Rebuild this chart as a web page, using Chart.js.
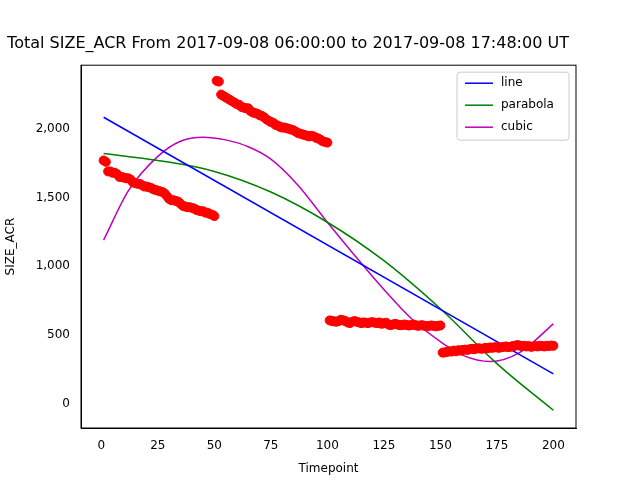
<!DOCTYPE html>
<html>
<head>
<script src="https://cdn.jsdelivr.net/npm/chart.js@4/dist/chart.umd.min.js"></script>
<style>body{margin:0;background:#fff}#wrap{width:640px;height:480px}</style>
</head>
<body>
<div id="wrap"><canvas id="chart"></canvas></div>
<script>
// observed SIZE_ACR, timepoints 1..200
const seg1 = [1770,1760,1690,1690,1680,1680,1670,1650,1650,1645,1640,1640,1630,1610,1605,1600,1600,1590,1580,1580,1575,1570,1560,1555,1550,1545,1540,1530,1510,1490,1480,1480,1475,1470,1455,1440,1435,1430,1430,1425,1420,1410,1405,1400,1400,1390,1390,1380,1375,1365];
const seg2 = [2350,2345,2250,2240,2230,2220,2210,2200,2190,2180,2175,2160,2155,2150,2150,2130,2120,2115,2110,2100,2095,2085,2070,2060,2050,2045,2030,2025,2015,2010,2010,2005,2000,1995,1990,1980,1970,1965,1960,1955,1950,1945,1950,1945,1935,1930,1920,1910,1905,1900];
const seg3 = [605,600,598,595,600,610,605,600,590,585,595,600,595,590,585,590,588,585,590,592,588,585,590,580,585,588,575,570,575,580,575,570,570,575,572,568,570,575,570,565,568,570,565,562,565,568,565,562,565,568];
const seg4 = [370,372,375,380,378,385,380,388,385,390,392,390,395,398,395,400,402,398,400,405,402,408,405,410,408,405,410,412,415,410,412,418,420,425,422,418,420,415,418,412,415,418,415,420,418,415,420,418,422,420];
const observed = seg1.concat(seg2, seg3, seg4);

// fitted curves, read at sample timepoints
const lineX = [1, 200];
const lineY = [2085, 215];
const paraX = [1, 25, 50, 75, 100, 125, 150, 175, 200];
const paraY = [1820, 1770, 1690, 1540, 1320, 1040, 690, 290, -50];
const cubicX = [1, 12, 25, 35, 45, 55, 65, 75, 87, 100, 112, 125, 137, 150, 160, 172, 185, 200];
const cubicY = [1190, 1550, 1800, 1910, 1940, 1920, 1870, 1780, 1590, 1320, 1080, 830, 620, 450, 350, 305, 370, 580];

const xTicks = [0, 25, 50, 75, 100, 125, 150, 175, 200];
const yTicks = [0, 500, 1000, 1500, 2000];

const pts = (xs, ys) => xs.map((x, i) => ({ x: x, y: ys[i] }));

// frame + legend box like matplotlib
const framePlugin = {
  id: "frame",
  afterDraw(chart) {
    const { ctx, chartArea: a } = chart;
    ctx.save();
    ctx.strokeStyle = "#000";
    ctx.lineWidth = 1;
    ctx.strokeRect(a.left, a.top, a.right - a.left, a.bottom - a.top);
    const items = chart.data.datasets.slice(1);
    const bx = a.right - 119, by = a.top + 7, bw = 112, bh = 68;
    ctx.strokeStyle = "#ccc";
    ctx.fillStyle = "rgba(255,255,255,0.8)";
    ctx.beginPath();
    ctx.roundRect(bx, by, bw, bh, 3);
    ctx.fill();
    ctx.stroke();
    ctx.font = "12px 'DejaVu Sans'";
    ctx.textBaseline = "middle";
    items.forEach((d, i) => {
      const y = by + 11 + i * 22;
      ctx.strokeStyle = d.borderColor;
      ctx.lineWidth = 1.5;
      ctx.beginPath();
      ctx.moveTo(bx + 8, y);
      ctx.lineTo(bx + 36, y);
      ctx.stroke();
      ctx.fillStyle = "#000";
      ctx.fillText(d.label, bx + 44, y);
    });
    ctx.restore();
  }
};

new Chart(document.getElementById("chart"), {
  type: "scatter",
  data: {
    datasets: [
      { label: "data", data: observed.map((v, i) => ({ x: i + 1, y: v })),
        backgroundColor: "red", borderColor: "red", pointRadius: 4.5, pointHoverRadius: 4.5 },
      { label: "line", type: "line", data: pts(lineX, lineY), borderColor: "blue",
        borderWidth: 1.5, pointRadius: 0, fill: false },
      { label: "parabola", type: "line", data: pts(paraX, paraY), borderColor: "green",
        borderWidth: 1.5, pointRadius: 0, tension: 0.4, fill: false },
      { label: "cubic", type: "line", data: pts(cubicX, cubicY), borderColor: "#bf00bf",
        borderWidth: 1.5, pointRadius: 0, cubicInterpolationMode: "monotone", fill: false }
    ]
  },
  options: {
    responsive: true,
    maintainAspectRatio: false,
    animation: false,
    layout: { padding: { left: 0, right: 64, top: 0, bottom: 0 } },
    plugins: {
      title: { display: true, text: "Total SIZE_ACR From 2017-09-08 06:00:00 to 2017-09-08 17:48:00 UT",
        color: "#000", font: { family: "DejaVu Sans", size: 16, weight: "normal" },
        padding: { top: 34, bottom: 12 } },
      legend: { display: false },
      tooltip: { enabled: false }
    },
    scales: {
      x: { type: "linear", min: -9, max: 210, grid: { display: false },
        border: { color: "#000" },
        afterFit: (s) => { s.height = 52; },
        afterBuildTicks: (s) => { s.ticks = xTicks.map((v) => ({ value: v })); },
        title: { display: true, text: "Timepoint", color: "#000", font: { family: "DejaVu Sans", size: 12 } },
        ticks: { color: "#000", font: { family: "DejaVu Sans", size: 12 } } },
      y: { min: -179, max: 2464, grid: { display: false },
        border: { color: "#000" },
        afterFit: (s) => { s.width = 81; },
        afterBuildTicks: (s) => { s.ticks = yTicks.map((v) => ({ value: v })); },
        title: { display: true, text: "SIZE_ACR", color: "#000", font: { family: "DejaVu Sans", size: 12 } },
        ticks: { color: "#000", font: { family: "DejaVu Sans", size: 12 } } }
    }
  },
  plugins: [framePlugin]
});
</script>
</body>
</html>
